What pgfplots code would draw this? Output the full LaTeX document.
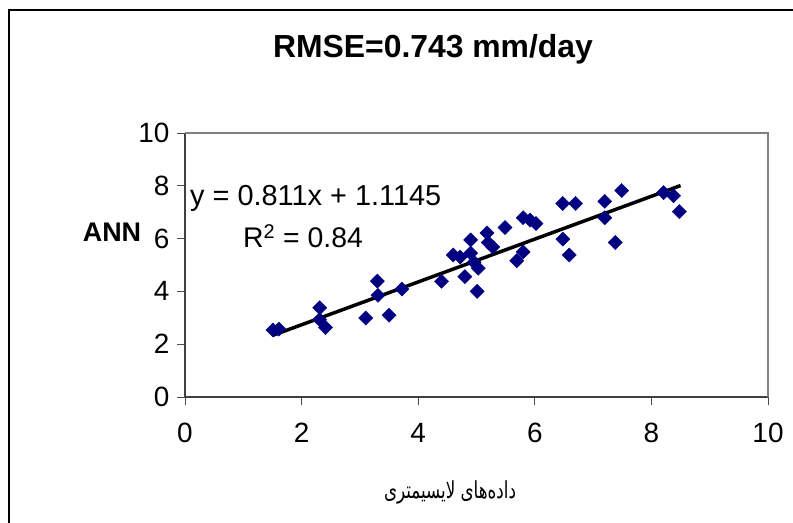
\documentclass[border=0pt]{standalone}
\usepackage{fontspec}
\setmainfont{Liberation Sans}
\newfontfamily\arabicfont[Script=Arabic]{DejaVu Sans}
\TeXXeTstate=1
\usepackage{pgfplots}
\pgfplotsset{compat=1.18}
\definecolor{ptblue}{RGB}{0,0,128}
\definecolor{frgray}{RGB}{128,128,128}
\begin{document}
\begin{tikzpicture}
\path[use as bounding box] (0,0) rectangle (793bp,523bp);
\draw[line width=1.3bp] (9bp,-2bp) -- (9bp,513bp) -- (795bp,513bp);
\begin{axis}[
  at={(185bp,126bp)}, anchor=south west,
  scale only axis, width=583bp, height=264bp,
  xmin=0, xmax=10, ymin=0, ymax=10,
  xtick={0,2,...,10}, ytick={0,2,...,10},
  axis x line*=bottom, axis y line*=left,
  axis line style={-, line width=1.1bp, draw=black!75},
  tick style={line width=0.8bp, draw=black!70},
  tick align=outside, major tick length=8bp,
  /pgf/number format/assume math mode=true,
  every tick label/.append style={font=\fontsize{28}{33}\selectfont},
  yticklabel style={xshift=-4bp},
  xticklabel style={yshift=-15bp},
  clip=false,
]
\draw[frgray, line width=1.1bp] (rel axis cs:0,1) -- (rel axis cs:1,1) -- (rel axis cs:1,0);
\addplot[only marks, mark=square*, mark size=5bp, mark options={rotate=45, fill=ptblue, draw=ptblue}] coordinates {
(1.51,2.54) (1.61,2.57) (2.31,3.38) (2.31,2.93) (2.41,2.63)
(3.10,2.99) (3.30,4.39) (3.31,3.85) (3.50,3.10) (3.72,4.09)
(4.40,4.38) (4.60,5.38) (4.72,5.30) (4.80,4.56) (4.90,5.95)
(4.90,5.45) (4.96,5.10) (5.01,4.00) (5.03,4.88) (5.18,6.21)
(5.20,5.85) (5.28,5.68) (5.49,6.42) (5.69,5.16) (5.80,5.50)
(5.80,6.79) (5.92,6.70) (6.02,6.57) (6.48,5.98) (6.48,7.33)
(6.59,5.38) (6.70,7.33) (7.20,7.41) (7.20,6.79) (7.38,5.85)
(7.49,7.82) (8.21,7.74) (8.38,7.62) (8.48,7.02)
};
\addplot[black, line width=3.5bp] coordinates {(1.5,2.331) (8.5,8.008)};
\end{axis}
\node[anchor=west, font=\fontsize{29}{34}\selectfont, inner sep=0] at (190bp,325bp) {y = 0.811x + 1.1145};
\node[anchor=west, font=\fontsize{28.5}{34}\selectfont, inner sep=0] at (243bp,287bp) {R$^{\mathrm{2}}$ = 0.84};
\node[font=\fontsize{32}{37}\selectfont\bfseries] at (433bp,474bp) {RMSE=0.743 mm/day};
\node[font=\fontsize{27}{32}\selectfont\bfseries] at (112bp,291bp) {ANN};
\node[font=\fontsize{21}{26}\selectfont] at (450bp,31bp) {\scalebox{0.8}[1.12]{\arabicfont\beginR داده‌های لایسیمتری\endR}};
\end{tikzpicture}
\end{document}
